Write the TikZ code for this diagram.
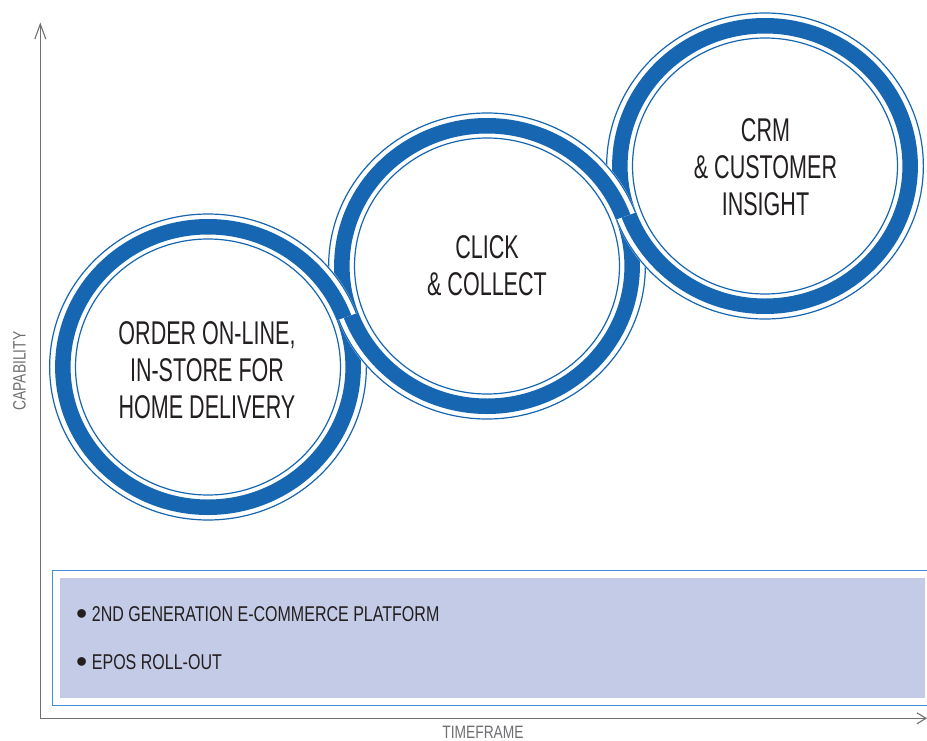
\documentclass[tikz,border=0pt]{standalone}
\usepackage{fontspec}
\usetikzlibrary{arrows.meta}
\newfontfamily\ringfont{Liberation Sans}[FakeStretch=0.655]
\newfontfamily\barfont{Liberation Sans}[FakeStretch=0.748]
\newfontfamily\bulletfont{Liberation Sans}
\newfontfamily\axisfont{Liberation Sans}[FakeStretch=0.77]
\definecolor{ringblue}{RGB}{22,102,178}
\definecolor{frameblue}{RGB}{66,142,212}
\definecolor{barfill}{RGB}{195,203,230}
\definecolor{axisgray}{RGB}{112,112,112}
\definecolor{labelgray}{RGB}{110,111,114}
\definecolor{inkdark}{RGB}{35,31,32}

% one link of the chain: thin outer rule, thick band, thin inner rule,
% with a white mask underneath so that it cuts whatever lies below
\newcommand\chainlink[1]{%
  \begin{scope}[shift={(#1)}, xscale=1.035]
    \draw[white, line width=27.5bp] (0,0) circle[radius=140.3bp];
    \draw[ringblue, line width=1.2bp] (0,0) circle[radius=153bp];
    \draw[ringblue, line width=15.5bp] (0,0) circle[radius=140.25bp];
    \draw[ringblue, line width=1.2bp] (0,0) circle[radius=128bp];
  \end{scope}}

\newcommand\itembullet{\raisebox{-3bp}{\bulletfont\fontsize{32}{24}\selectfont •}}

\tikzset{
  ringtext/.style={font=\ringfont\fontsize{33}{37}\selectfont, align=center,
    inner sep=0pt, text=inkdark},
  bartext/.style={font=\barfont\fontsize{21.5}{24}\selectfont, inner sep=0pt,
    text=inkdark, anchor=base west},
  axislabel/.style={font=\axisfont\fontsize{18}{20}\selectfont, inner sep=0pt,
    text=labelgray},
  axisline/.style={axisgray, line width=1.1bp},
}

\begin{document}
\begin{tikzpicture}[x=1bp, y=-1bp]
\useasboundingbox (0,0) rectangle (927,741);

% axes
\coordinate (origin) at (40.3,718.3);
\coordinate (ytop) at (40.3,22.5);
\coordinate (xend) at (927,718.3);
\draw[axisline, -{Straight Barb[length=15bp, width=11bp]}] (origin) -- (ytop);
\draw[axisline, -{Straight Barb[length=9bp, width=11bp]}] (origin) -- (xend);

% foundation bar
\draw[frameblue, line width=1.3bp] (52.3,570.7) rectangle (940,705.7);
\fill[barfill] (60,578) rectangle (925,698);

% chain of three links
\coordinate (A) at (208,367);
\coordinate (B) at (487,266);
\coordinate (C) at (765,166);
\chainlink{A}
\chainlink{B}
\chainlink{C}
% upper crossings: the earlier link passes over the next one
\begin{scope}
  \clip (280,180) -- (420,180) -- (420,290.3) -- (280,340.9) -- cycle;
  \chainlink{A}
\end{scope}
\begin{scope}
  \clip (560,80) -- (700,80) -- (700,189.4) -- (560,239.7) -- cycle;
  \chainlink{B}
\end{scope}

% link captions
\node[ringtext] (order) at (207,370) {ORDER ON-LINE,\\IN-STORE FOR\\HOME DELIVERY};
\node[ringtext] (click) at (487,266) {CLICK\\\& COLLECT};
\node[ringtext] (crm) at (765.5,167) {CRM\\\& CUSTOMER\\INSIGHT};

% bar items
\node[bartext] (itemA) at (76,621.7) {\makebox[15.7bp][l]{\itembullet}2ND GENERATION E-COMMERCE PLATFORM};
\node[bartext] (itemB) at (76,669.3) {\makebox[15.7bp][l]{\itembullet}EPOS ROLL-OUT};

% axis labels
\node[axislabel] (timeframe) at (483,732) {TIMEFRAME};
\node[axislabel, rotate=90] (capability) at (19.5,371) {CAPABILITY};
\end{tikzpicture}
\end{document}
